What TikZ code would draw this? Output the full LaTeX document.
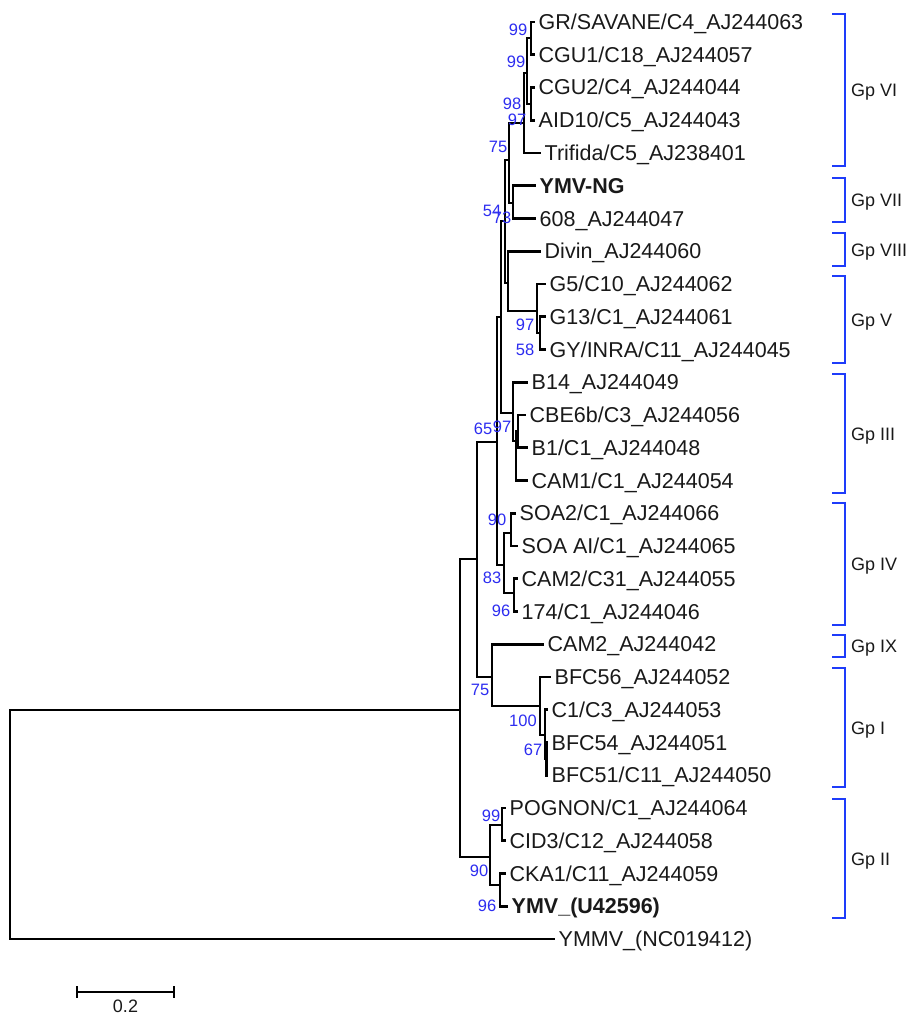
\documentclass[tikz,border=0pt]{standalone}
\usepackage{fontspec}
\setmainfont{Liberation Sans}
\definecolor{bootblue}{RGB}{45,45,240}
\definecolor{grpblue}{RGB}{30,60,250}
\definecolor{ink}{RGB}{25,25,25}
\newcommand{\tipfont}{\fontsize{21.5}{21.5}\selectfont}
\newcommand{\bootfont}{\fontsize{16.5}{16.5}\selectfont}
\newcommand{\grpfont}{\fontsize{18}{18}\selectfont}
\begin{document}
\begin{tikzpicture}[x=1pt,y=-1pt,
  branch/.style={draw=black,line width=2.6pt,line join=miter},
  tip/.style={anchor=west,inner sep=0pt,font=\tipfont,text=ink,text height=15pt,text depth=0pt,xshift=3.5pt},
  boot/.style={inner sep=0pt,font=\bootfont,text=bootblue},
  grpbr/.style={draw=grpblue,line width=2.6pt,line join=miter},
  grplab/.style={anchor=west,inner sep=0pt,font=\grpfont,text=ink,text height=13pt,text depth=0pt},
  scalebar/.style={draw=black,line width=2.4pt}]
\useasboundingbox (0,0) rectangle (907,1016);
\clip (0,0) rectangle (907,1016);
% tips
\coordinate (t1) at (535,22);
\coordinate (t2) at (535,54.75);
\coordinate (t3) at (535,87.5);
\coordinate (t4) at (535,120.25);
\coordinate (t5) at (541,153);
\coordinate (t6) at (536,185.75);
\coordinate (t7) at (536,218.5);
\coordinate (t8) at (541,251.25);
\coordinate (t9) at (546,284);
\coordinate (t10) at (546,316.75);
\coordinate (t11) at (546,349.5);
\coordinate (t12) at (528,382.25);
\coordinate (t13) at (526,415);
\coordinate (t14) at (528,447.75);
\coordinate (t15) at (528,480.5);
\coordinate (t16) at (516,513.25);
\coordinate (t17) at (518,546);
\coordinate (t18) at (518,578.75);
\coordinate (t19) at (518,611.5);
\coordinate (t20) at (544,644.25);
\coordinate (t21) at (551,677);
\coordinate (t22) at (548,709.75);
\coordinate (t23) at (548,742.5);
\coordinate (t24) at (548,775.25);
\coordinate (t25) at (506,808);
\coordinate (t26) at (506,840.75);
\coordinate (t27) at (506,873.5);
\coordinate (t28) at (508,906.25);
\coordinate (t29) at (555,939);
% internal nodes
\coordinate (n1) at (531,38);
\coordinate (n2) at (531,104);
\coordinate (n3) at (527,73);
\coordinate (n4) at (524,123);
\coordinate (n5) at (513,203);
\coordinate (C) at (509,160);
\coordinate (Gs) at (540,333);
\coordinate (Gn) at (537,311);
\coordinate (D) at (508,283);
\coordinate (E) at (505,221);
\coordinate (IIIc) at (518,431);
\coordinate (IIIb) at (516,441);
\coordinate (IIIa) at (513,413);
\coordinate (F) at (501,317);
\coordinate (Ha) at (511,533);
\coordinate (Hb) at (514,593);
\coordinate (H) at (504,565);
\coordinate (G) at (497,442);
\coordinate (Lb) at (546.5,759);
\coordinate (L) at (545,735);
\coordinate (K) at (540,706);
\coordinate (J) at (492,677);
\coordinate (B) at (477,559);
\coordinate (IIa) at (502,825);
\coordinate (IIb) at (500,885);
\coordinate (IIn) at (490,857);
\coordinate (A) at (460,710);
\coordinate (R) at (10,825);
% branches
\foreach \p/\c in {R/A,R/t29,A/B,A/IIn,B/G,B/J,G/F,G/H,F/E,F/IIIa,E/C,E/D,
  C/n4,C/n5,n4/n3,n4/t5,n3/n1,n3/n2,n1/t1,n1/t2,n2/t3,n2/t4,n5/t6,n5/t7,
  D/t8,D/Gn,Gn/t9,Gn/Gs,Gs/t10,Gs/t11,IIIa/t12,IIIa/IIIb,IIIb/IIIc,IIIb/t15,
  IIIc/t13,IIIc/t14,H/Ha,H/Hb,Ha/t16,Ha/t17,Hb/t18,Hb/t19,J/t20,J/K,K/t21,K/L,
  L/t22,L/Lb,Lb/t23,Lb/t24,IIn/IIa,IIn/IIb,IIa/t25,IIa/t26,IIb/t27,IIb/t28}
  \draw[branch] (\p) |- (\c);
% tip labels
\node[tip] (l1) at (t1) {GR/SAVANE/C4\_AJ244063};
\node[tip] (l2) at (t2) {CGU1/C18\_AJ244057};
\node[tip] (l3) at (t3) {CGU2/C4\_AJ244044};
\node[tip] (l4) at (t4) {AID10/C5\_AJ244043};
\node[tip] (l5) at (t5) {Trifida/C5\_AJ238401};
\node[tip] (l6) at (t6) {\bfseries YMV-NG};
\node[tip] (l7) at (t7) {608\_AJ244047};
\node[tip] (l8) at (t8) {Divin\_AJ244060};
\node[tip] (l9) at (t9) {G5/C10\_AJ244062};
\node[tip] (l10) at (t10) {G13/C1\_AJ244061};
\node[tip] (l11) at (t11) {GY/INRA/C11\_AJ244045};
\node[tip] (l12) at (t12) {B14\_AJ244049};
\node[tip] (l13) at (t13) {CBE6b/C3\_AJ244056};
\node[tip] (l14) at (t14) {B1/C1\_AJ244048};
\node[tip] (l15) at (t15) {CAM1/C1\_AJ244054};
\node[tip] (l16) at (t16) {SOA2/C1\_AJ244066};
\node[tip] (l17) at (t17) {SOA AI/C1\_AJ244065};
\node[tip] (l18) at (t18) {CAM2/C31\_AJ244055};
\node[tip] (l19) at (t19) {174/C1\_AJ244046};
\node[tip] (l20) at (t20) {CAM2\_AJ244042};
\node[tip] (l21) at (t21) {BFC56\_AJ244052};
\node[tip] (l22) at (t22) {C1/C3\_AJ244053};
\node[tip] (l23) at (t23) {BFC54\_AJ244051};
\node[tip] (l24) at (t24) {BFC51/C11\_AJ244050};
\node[tip] (l25) at (t25) {POGNON/C1\_AJ244064};
\node[tip] (l26) at (t26) {CID3/C12\_AJ244058};
\node[tip] (l27) at (t27) {CKA1/C11\_AJ244059};
\node[tip] (l28) at (t28) {\bfseries YMV\_(U42596)};
\node[tip] (l29) at (t29) {YMMV\_(NC019412)};
% bootstrap values
\node[boot] (b1) at (518,30) {99};
\node[boot] (b2) at (516,62) {99};
\node[boot] (b3) at (512,104) {98};
\node[boot] (b4) at (517,120) {97};
\node[boot] (b5) at (498,147) {75};
\node[boot] (b6) at (492,211) {54};
\node[boot] (b7) at (502,218) {73};
\node[boot] (b8) at (525,325) {97};
\node[boot] (b9) at (525,350) {58};
\node[boot] (b10) at (483,429) {65};
\node[boot] (b11) at (502,427) {97};
\node[boot] (b12) at (497,520) {90};
\node[boot] (b13) at (492,578) {83};
\node[boot] (b14) at (501,611) {96};
\node[boot] (b15) at (480,690) {75};
\node[boot] (b16) at (523,721) {100};
\node[boot] (b17) at (533,750) {67};
\node[boot] (b18) at (491,816) {99};
\node[boot] (b19) at (479,871) {90};
\node[boot] (b20) at (487,906) {96};
% group brackets
\foreach \t/\b/\lab/\nm in {14/166/Gp VI/g6,178/222/Gp VII/g7,233/266/Gp VIII/g8,
  276/363/Gp V/g5,374/493/Gp III/g3,503/625/Gp IV/g4,635/657/Gp IX/g9,
  668/787/Gp I/g1,799/918/Gp II/g2}{
  \draw[grpbr] (832,\t) -- (845,\t) -- (845,\b) -- (832,\b);
  \node[grplab] (\nm) at (851,{(\t+\b)/2}) {\lab};
}
% scale bar
\coordinate (s0) at (77,992);
\coordinate (s1) at (174,992);
\draw[scalebar] (s0) -- (s1);
\draw[scalebar] ([yshift=6pt]s0) -- ([yshift=-6pt]s0);
\draw[scalebar] ([yshift=6pt]s1) -- ([yshift=-6pt]s1);
\node[inner sep=0pt,font=\grpfont,text=ink] (sl) at (125.5,1006) {0.2};
\end{tikzpicture}
\end{document}
